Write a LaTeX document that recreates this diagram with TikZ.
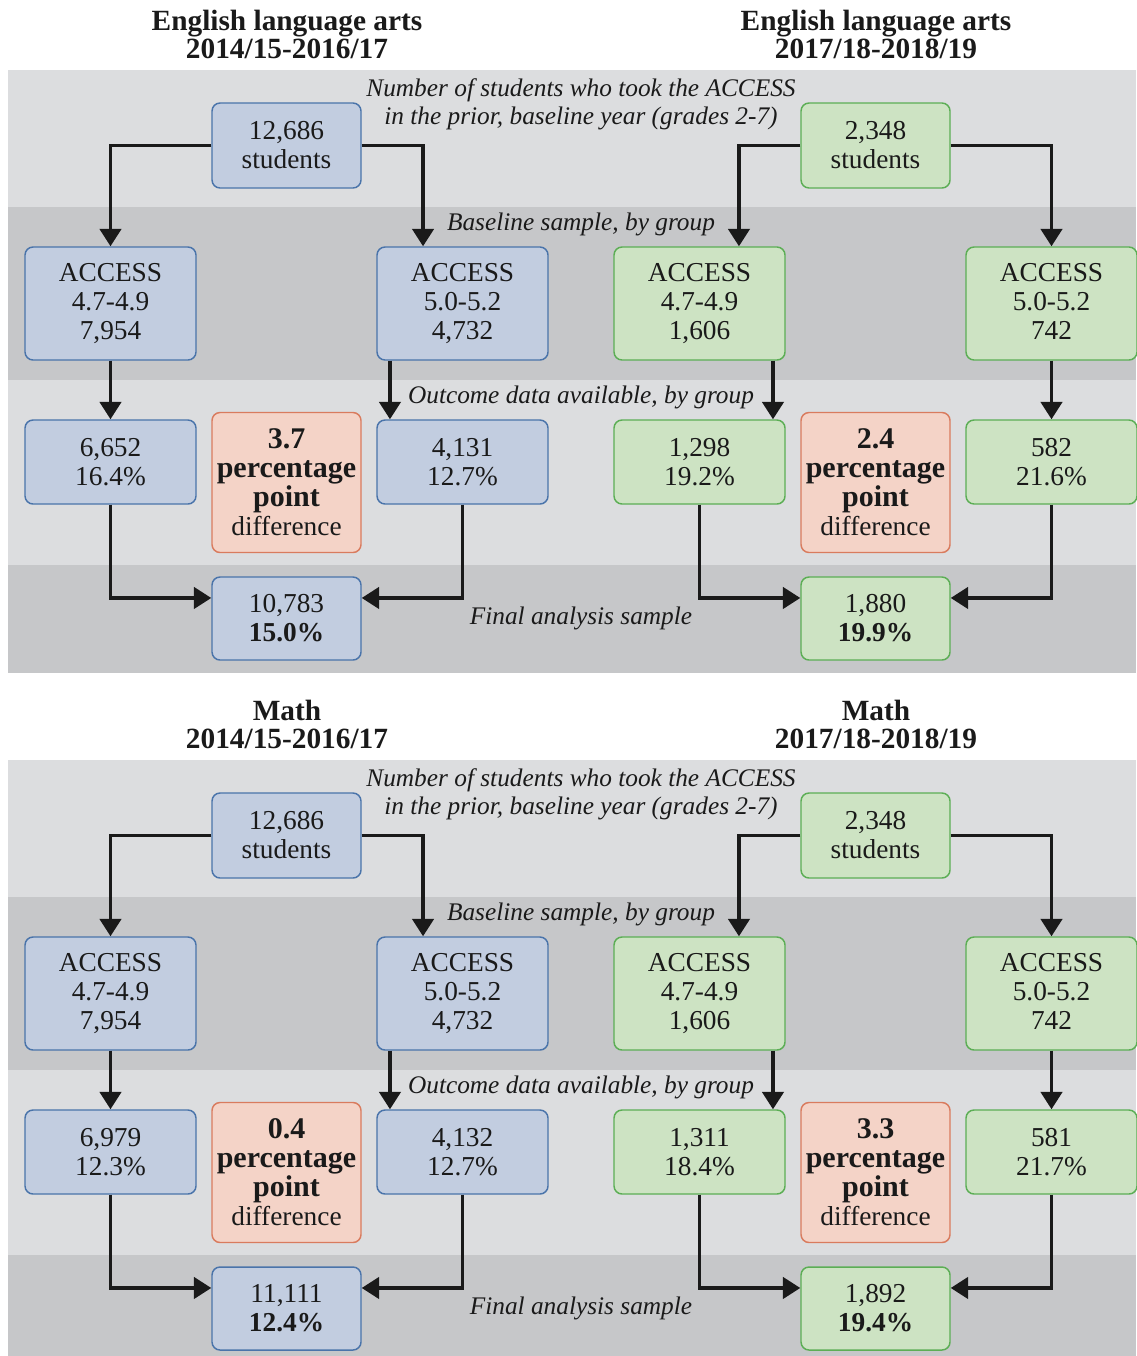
\documentclass[tikz,border=0pt]{standalone}
\usepackage{fontspec}
\setmainfont{Liberation Serif}
\usetikzlibrary{arrows.meta}
\definecolor{bglight}{HTML}{DCDDDF}
\definecolor{bgdark}{HTML}{C6C7C9}
\definecolor{bluefill}{HTML}{C2CDE0}
\definecolor{blueline}{HTML}{4A74AA}
\definecolor{greenfill}{HTML}{CDE3C3}
\definecolor{greenline}{HTML}{5CAE55}
\definecolor{orangefill}{HTML}{F4D3C7}
\definecolor{orangeline}{HTML}{D97B5E}
\definecolor{ink}{HTML}{1A1A1A}
\newcommand\bigbf[1]{{\fontsize{22.5}{21.75}\selectfont\bfseries #1}}
\tikzset{
 box/.style={rounded corners=6pt, line width=1.1pt, align=center, inner sep=0pt, font=\fontsize{20.5}{21.75}\selectfont, text=ink},
 bluebox/.style={box, fill=bluefill, draw=blueline},
 greenbox/.style={box, fill=greenfill, draw=greenline},
 diffbox/.style={box, fill=orangefill, draw=orangeline},
 topbox/.style={minimum width=111.75pt, minimum height=63.75pt},
 accbox/.style={minimum width=128.25pt, minimum height=84.75pt},
 outbox/.style={minimum width=128.25pt, minimum height=63pt},
 ppbox/.style={minimum width=111.75pt, minimum height=105pt},
 finbox/.style={minimum width=111.75pt, minimum height=62.25pt},
 arr/.style={line width=2.4pt, draw=ink, -{Triangle[width=16pt,length=13pt]}},
 note/.style={font=\fontsize{19}{21}\selectfont\itshape, text=ink, align=center, inner sep=0pt},
 ttl/.style={font=\fontsize{22}{21}\selectfont\bfseries, text=ink, align=center, inner sep=0pt},
}
\begin{document}
\begin{tikzpicture}[x=0.75pt,y=-0.75pt]
\useasboundingbox (0,0) rectangle (1136,1356);
\fill[white] (0,0) rectangle (1136,1356);
% ---------- panel 1 ----------
\fill[bglight] (8,70) rectangle (1136,207);
\fill[bgdark] (8,207) rectangle (1136,380);
\fill[bglight] (8,380) rectangle (1136,565);
\fill[bgdark] (8,565) rectangle (1136,673);
\node[ttl] (t1) at (287,34) {English language arts\\2014/15-2016/17};
\node[ttl] (t2) at (876,34) {English language arts\\2017/18-2018/19};
\node[note] (n1) at (581,104) {Number of students who took the ACCESS\\in the prior, baseline year (grades 2-7)};
\node[note] (n2) at (581,224) {Baseline sample, by group};
\node[note] (n3) at (581,397) {Outcome data available, by group};
\node[note] (n4) at (581,618) {Final analysis sample};
% blue
\node[bluebox,topbox] (b0) at (286.5,145.5) {12,686\\students};
\node[bluebox,accbox] (b1) at (110.5,303.5) {ACCESS\\4.7-4.9\\7,954};
\node[bluebox,accbox] (b2) at (462.5,303.5) {ACCESS\\5.0-5.2\\4,732};
\node[bluebox,outbox] (b3) at (110.5,462) {6,652\\16.4\%};
\node[bluebox,outbox] (b4) at (462.5,462) {4,131\\12.7\%};
\node[diffbox,ppbox] (b5) at (286.5,482.5) {\bigbf{3.7}\\\bigbf{percentage}\\\bigbf{point}\\difference};
\node[bluebox,finbox] (b6) at (286.5,618.5) {10,783\\\textbf{15.0\%}};
\draw[arr] (b0.west) -| (b1.north);
\draw[arr] (b0.east) -| ([xshift=-29.6pt]b2.north);
\draw[arr] (b1.south) -- (b3.north);
\draw[arr] ([xshift=-54.4pt]b2.south) -- ([xshift=-54.4pt]b4.north);
\draw[arr] (b3.south) |- ([yshift=15.4pt]b6.west);
\draw[arr] (b4.south) |- ([yshift=15.4pt]b6.east);
% green
\node[greenbox,topbox] (g0) at (875.5,145.5) {2,348\\students};
\node[greenbox,accbox] (g1) at (699.5,303.5) {ACCESS\\4.7-4.9\\1,606};
\node[greenbox,accbox] (g2) at (1051.5,303.5) {ACCESS\\5.0-5.2\\742\vphantom{,}};
\node[greenbox,outbox] (g3) at (699.5,462) {1,298\\19.2\%};
\node[greenbox,outbox] (g4) at (1051.5,462) {582\\21.6\%};
\node[diffbox,ppbox] (g5) at (875.5,482.5) {\bigbf{2.4}\\\bigbf{percentage}\\\bigbf{point}\\difference};
\node[greenbox,finbox] (g6) at (875.5,618.5) {1,880\\\textbf{19.9\%}};
\draw[arr] (g0.west) -| ([xshift=29.6pt]g1.north);
\draw[arr] (g0.east) -| (g2.north);
\draw[arr] ([xshift=55.1pt]g1.south) -- ([xshift=55.1pt]g3.north);
\draw[arr] (g2.south) -- (g4.north);
\draw[arr] (g3.south) |- ([yshift=15.4pt]g6.west);
\draw[arr] (g4.south) |- ([yshift=15.4pt]g6.east);
% ---------- panel 2 ----------
\begin{scope}[yshift=-517.5pt]
\fill[bglight] (8,70) rectangle (1136,207);
\fill[bgdark] (8,207) rectangle (1136,380);
\fill[bglight] (8,380) rectangle (1136,565);
\fill[bgdark] (8,565) rectangle (1136,666);
\node[ttl] (mt1) at (287,34) {Math\\2014/15-2016/17};
\node[ttl] (mt2) at (876,34) {Math\\2017/18-2018/19};
\node[note] (mn1) at (581,104) {Number of students who took the ACCESS\\in the prior, baseline year (grades 2-7)};
\node[note] (mn2) at (581,224) {Baseline sample, by group};
\node[note] (mn3) at (581,397) {Outcome data available, by group};
\node[note] (mn4) at (581,618) {Final analysis sample};
\node[bluebox,topbox] (mb0) at (286.5,145.5) {12,686\\students};
\node[bluebox,accbox] (mb1) at (110.5,303.5) {ACCESS\\4.7-4.9\\7,954};
\node[bluebox,accbox] (mb2) at (462.5,303.5) {ACCESS\\5.0-5.2\\4,732};
\node[bluebox,outbox] (mb3) at (110.5,462) {6,979\\12.3\%};
\node[bluebox,outbox] (mb4) at (462.5,462) {4,132\\12.7\%};
\node[diffbox,ppbox] (mb5) at (286.5,482.5) {\bigbf{0.4}\\\bigbf{percentage}\\\bigbf{point}\\difference};
\node[bluebox,finbox] (mb6) at (286.5,618.5) {11,111\\\textbf{12.4\%}};
\draw[arr] (mb0.west) -| (mb1.north);
\draw[arr] (mb0.east) -| ([xshift=-29.6pt]mb2.north);
\draw[arr] (mb1.south) -- (mb3.north);
\draw[arr] ([xshift=-54.4pt]mb2.south) -- ([xshift=-54.4pt]mb4.north);
\draw[arr] (mb3.south) |- ([yshift=15.4pt]mb6.west);
\draw[arr] (mb4.south) |- ([yshift=15.4pt]mb6.east);
\node[greenbox,topbox] (mg0) at (875.5,145.5) {2,348\\students};
\node[greenbox,accbox] (mg1) at (699.5,303.5) {ACCESS\\4.7-4.9\\1,606};
\node[greenbox,accbox] (mg2) at (1051.5,303.5) {ACCESS\\5.0-5.2\\742\vphantom{,}};
\node[greenbox,outbox] (mg3) at (699.5,462) {1,311\\18.4\%};
\node[greenbox,outbox] (mg4) at (1051.5,462) {581\\21.7\%};
\node[diffbox,ppbox] (mg5) at (875.5,482.5) {\bigbf{3.3}\\\bigbf{percentage}\\\bigbf{point}\\difference};
\node[greenbox,finbox] (mg6) at (875.5,618.5) {1,892\\\textbf{19.4\%}};
\draw[arr] (mg0.west) -| ([xshift=29.6pt]mg1.north);
\draw[arr] (mg0.east) -| (mg2.north);
\draw[arr] ([xshift=55.1pt]mg1.south) -- ([xshift=55.1pt]mg3.north);
\draw[arr] (mg2.south) -- (mg4.north);
\draw[arr] (mg3.south) |- ([yshift=15.4pt]mg6.west);
\draw[arr] (mg4.south) |- ([yshift=15.4pt]mg6.east);
\end{scope}
\end{tikzpicture}
\end{document}
